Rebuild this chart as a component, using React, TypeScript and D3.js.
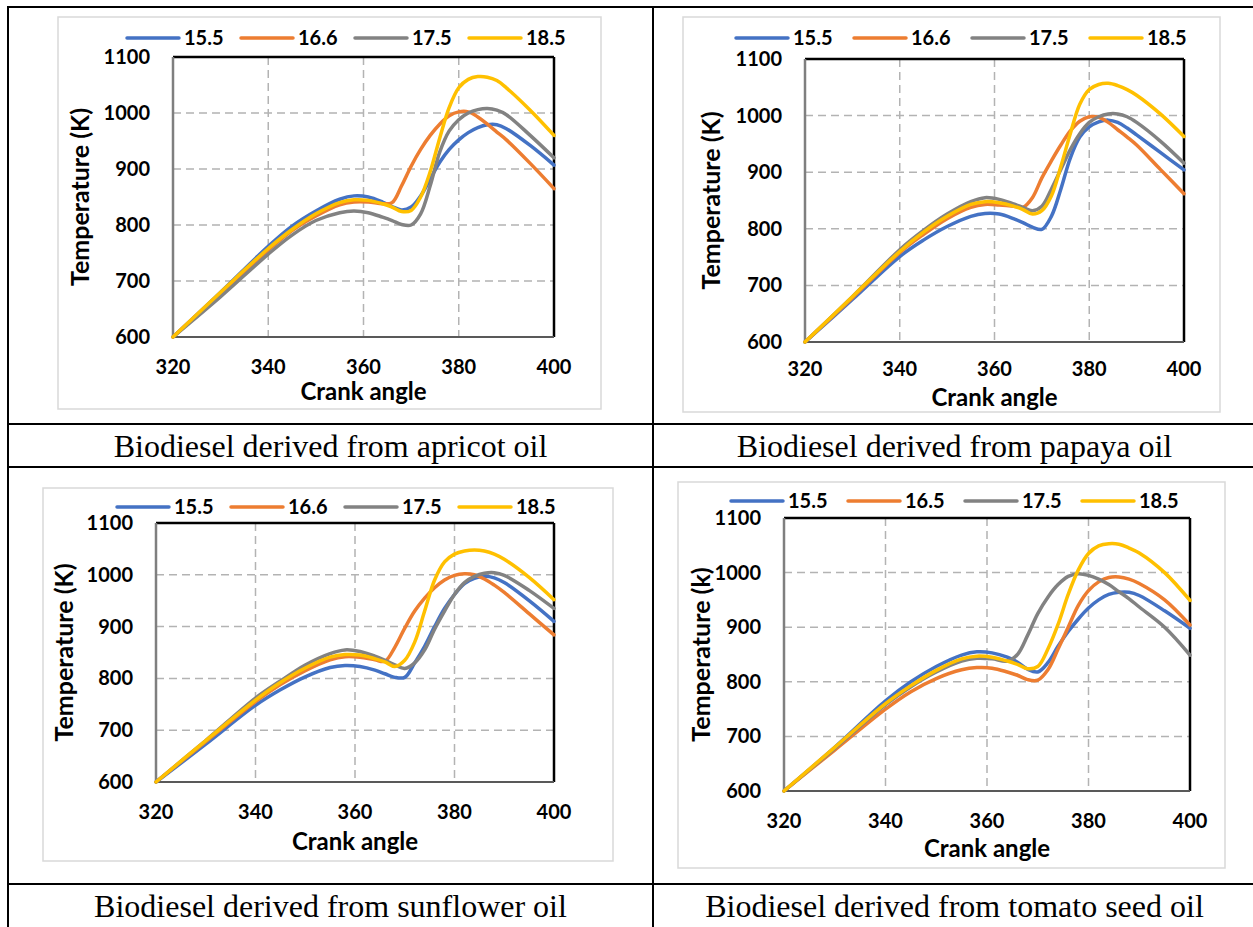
import * as d3 from 'd3';

// crank angles sampled along every curve
const angles = [320, 330, 340, 345, 350, 355, 358, 361, 364, 366, 368, 370, 372, 374, 376, 378, 380, 382, 384, 386, 388, 390, 395, 400];
const xTicks = [320, 340, 360, 380, 400];
const yTicks = [600, 700, 800, 900, 1000, 1100];
const seriesColors = ['#4472C4', '#ED7D31', '#828282', '#FFC000'];

const legendA = ['15.5', '16.6', '17.5', '18.5'];
const legendB = ['15.5', '16.5', '17.5', '18.5'];

// apricot oil
const apricot155 = [600, 680, 762, 798, 825, 846, 852, 850, 841, 833, 827, 832, 852, 882, 912, 935, 952, 965, 974, 979, 979, 972, 942, 907];
const apricot166 = [600, 678, 755, 790, 816, 836, 841, 841, 838, 840, 870, 905, 935, 960, 980, 995, 1002, 1002, 993, 980, 966, 952, 910, 865];
const apricot175 = [600, 672, 748, 782, 808, 822, 825, 822, 814, 808, 801, 800, 820, 870, 930, 968, 988, 1000, 1006, 1008, 1005, 997, 960, 920];
const apricot185 = [600, 680, 758, 792, 820, 840, 845, 844, 838, 832, 824, 826, 850, 895, 955, 1010, 1045, 1060, 1065, 1064, 1058, 1045, 1005, 960];

// papaya oil
const papaya155 = [600, 675, 751, 780, 804, 822, 827, 826, 818, 811, 803, 799, 822, 870, 925, 962, 980, 989, 992, 988, 978, 966, 935, 904];
const papaya166 = [600, 678, 758, 790, 818, 838, 843, 842, 840, 838, 855, 890, 920, 948, 973, 990, 998, 997, 988, 975, 962, 948, 905, 862];
const papaya175 = [600, 680, 763, 797, 826, 848, 855, 852, 844, 838, 832, 840, 870, 905, 940, 968, 988, 998, 1003, 1003, 998, 988, 955, 916];
const papaya185 = [600, 680, 760, 794, 822, 843, 848, 846, 840, 834, 826, 832, 858, 910, 968, 1020, 1046, 1055, 1057, 1053, 1046, 1036, 1003, 963];

// sunflower oil
const sunflower155 = [600, 673, 748, 778, 803, 821, 825, 823, 816, 809, 802, 802, 830, 862, 900, 935, 962, 983, 993, 997, 994, 985, 950, 910];
const sunflower166 = [600, 678, 755, 788, 815, 836, 842, 841, 836, 833, 860, 897, 930, 955, 975, 990, 999, 1002, 1000, 992, 980, 966, 925, 884];
const sunflower175 = [600, 680, 762, 795, 826, 848, 855, 852, 843, 835, 826, 819, 830, 855, 895, 930, 962, 985, 997, 1003, 1004, 999, 970, 935];
const sunflower185 = [600, 680, 758, 792, 820, 841, 846, 845, 838, 832, 823, 835, 870, 930, 990, 1025, 1040, 1046, 1048, 1046, 1040, 1030, 995, 952];

// tomato seed oil
const tomato155 = [600, 680, 765, 800, 828, 849, 855, 853, 845, 836, 823, 818, 835, 865, 892, 915, 935, 950, 960, 964, 964, 958, 930, 898];
const tomato165 = [600, 675, 750, 782, 806, 822, 826, 825, 818, 812, 804, 803, 822, 860, 900, 940, 967, 983, 991, 992, 988, 980, 950, 904];
const tomato175 = [600, 678, 758, 791, 818, 838, 843, 842, 838, 850, 885, 925, 955, 978, 993, 998, 995, 988, 978, 965, 952, 937, 900, 849];
const tomato185 = [600, 680, 760, 793, 821, 842, 847, 845, 838, 832, 824, 828, 860, 905, 960, 1005, 1035, 1049, 1053, 1052, 1045, 1036, 1000, 949];

const captions = [
  'Biodiesel derived from apricot oil',
  'Biodiesel derived from papaya oil',
  'Biodiesel derived from sunflower oil',
  'Biodiesel derived from tomato seed oil',
];

const panels = [
  {
    series: [apricot155, apricot166, apricot175, apricot185], legend: legendA, yTitle: 'Temperature (K)',
    plot: { left: 173, top: 57, right: 554, bottom: 337 }, frame: { x: 58, y: 17, w: 543, h: 392 },
    legendX: 127, legendY: 38, legendStep: 114, tickBase: 37, titleBase: 63, yTitleX: 80,
  },
  {
    series: [papaya155, papaya166, papaya175, papaya185], legend: legendA, yTitle: 'Temperature (K)',
    plot: { left: 805, top: 59, right: 1184, bottom: 342 }, frame: { x: 683, y: 17, w: 537, h: 395 },
    legendX: 736, legendY: 38, legendStep: 118, tickBase: 34, titleBase: 64, yTitleX: 711,
  },
  {
    series: [sunflower155, sunflower166, sunflower175, sunflower185], legend: legendA, yTitle: 'Temperature (K)',
    plot: { left: 156, top: 523, right: 554, bottom: 782 }, frame: { x: 43, y: 488, w: 570, h: 373 },
    legendX: 117, legendY: 507, legendStep: 114, tickBase: 37, titleBase: 68, yTitleX: 64,
  },
  {
    series: [tomato155, tomato165, tomato175, tomato185], legend: legendB, yTitle: 'Temperature (k)',
    plot: { left: 784, top: 518, right: 1190, bottom: 791 }, frame: { x: 678, y: 482, w: 547, h: 386 },
    legendX: 731, legendY: 501, legendStep: 117, tickBase: 37, titleBase: 66, yTitleX: 701,
  },
];

const font = 'Lato, "Open Sans", sans-serif';

function Panel({ p }: { p: typeof panels[number] }) {
  const x = d3.scaleLinear().domain([320, 400]).range([p.plot.left, p.plot.right]);
  const y = d3.scaleLinear().domain([600, 1100]).range([p.plot.bottom, p.plot.top]);
  const line = d3.line<number>()
    .x((_, i) => x(angles[i]))
    .y(d => y(d))
    .curve(d3.curveCatmullRom.alpha(0.5));
  const midX = (p.plot.left + p.plot.right) / 2;
  const midY = (p.plot.top + p.plot.bottom) / 2;

  return (
    <g>
      <rect x={p.frame.x} y={p.frame.y} width={p.frame.w} height={p.frame.h} fill="#fff" stroke="#d9d9d9" strokeWidth={1.5} />

      {/* grid */}
      {yTicks.slice(1, -1).map(t => (
        <line key={'gy' + t} x1={p.plot.left} x2={p.plot.right} y1={y(t)} y2={y(t)}
          stroke="#b3b3b3" strokeWidth={1.5} strokeDasharray="8,5" />
      ))}
      {xTicks.slice(1, -1).map(t => (
        <line key={'gx' + t} x1={x(t)} x2={x(t)} y1={p.plot.top} y2={p.plot.bottom}
          stroke="#b3b3b3" strokeWidth={1.5} strokeDasharray="8,5" />
      ))}

      {/* plot border */}
      <line x1={p.plot.left} x2={p.plot.right} y1={p.plot.top} y2={p.plot.top} stroke="#000" strokeWidth={2.5} />
      <line x1={p.plot.right} x2={p.plot.right} y1={p.plot.top} y2={p.plot.bottom} stroke="#000" strokeWidth={2.5} />
      <line x1={p.plot.left} x2={p.plot.left} y1={p.plot.top} y2={p.plot.bottom} stroke="#7f7f7f" strokeWidth={2.5} />
      <line x1={p.plot.left} x2={p.plot.right} y1={p.plot.bottom} y2={p.plot.bottom} stroke="#595959" strokeWidth={2} />

      {/* series */}
      {p.series.map((s, i) => (
        <path key={'s' + i} d={line(s) ?? ''} fill="none" stroke={seriesColors[i]} strokeWidth={3.5} strokeLinejoin="round" strokeLinecap="round" />
      ))}

      {/* ticks */}
      {yTicks.map(t => (
        <text key={'ty' + t} x={p.plot.left - 23} y={y(t)} dy="0.35em" textAnchor="end"
          fontFamily={font} fontWeight={700} fontSize={20}>{t}</text>
      ))}
      {xTicks.map(t => (
        <text key={'tx' + t} x={x(t)} y={p.plot.bottom + p.tickBase} textAnchor="middle"
          fontFamily={font} fontWeight={700} fontSize={20}>{t}</text>
      ))}

      <text x={midX} y={p.plot.bottom + p.titleBase} textAnchor="middle"
        fontFamily={font} fontWeight={700} fontSize={24}>Crank angle</text>
      <text transform={`translate(${p.yTitleX},${midY}) rotate(-90)`} dy="0.35em" textAnchor="middle"
        fontFamily={font} fontWeight={700} fontSize={25}>{p.yTitle}</text>

      {/* legend */}
      {p.legend.map((l, i) => {
        const lx = p.legendX + i * p.legendStep;
        return (
          <g key={'l' + i}>
            <line x1={lx} x2={lx + 52} y1={p.legendY} y2={p.legendY} stroke={seriesColors[i]} strokeWidth={3.5} strokeLinecap="round" />
            <text x={lx + 57} y={p.legendY} dy="0.35em" fontFamily={font} fontWeight={700} fontSize={20}>{l}</text>
          </g>
        );
      })}
    </g>
  );
}

export default function App() {
  const colL = 8, colM = 653, colR = 1256;
  const rows = [7, 424, 467, 884, 928];
  const capFont = '"Liberation Serif", "Times New Roman", serif';
  return (
    <div style={{ position: 'absolute', left: 0, top: 0 }}>
      <svg width={1253} height={927} style={{ display: 'block', background: '#fff' }}>
        {panels.map((p, i) => <Panel key={i} p={p} />)}

        {/* table borders */}
        {rows.map(r => <line key={'r' + r} x1={colL - 1} x2={colR + 1} y1={r} y2={r} stroke="#000" strokeWidth={2} />)}
        {[colL, colM, colR].map(c => <line key={'c' + c} x1={c} x2={c} y1={rows[0] - 1} y2={rows[4] + 1} stroke="#000" strokeWidth={2} />)}

        {captions.map((c, i) => (
          <text key={'cap' + i} x={i % 2 === 0 ? (colL + colM) / 2 : (colM + colR) / 2}
            y={i < 2 ? 457 : 917} textAnchor="middle" fontFamily={capFont} fontSize={32}>{c}</text>
        ))}
      </svg>
    </div>
  );
}
